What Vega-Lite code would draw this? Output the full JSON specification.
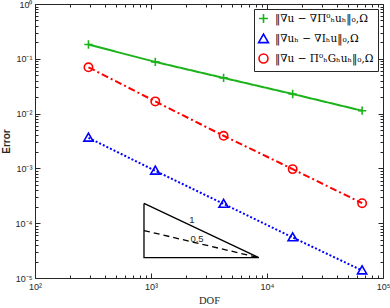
{
  "$schema": "https://vega.github.io/schema/vega-lite/v6.json",
  "width": 348,
  "height": 274,
  "autosize": "none",
  "padding": {"left": 35, "top": 4, "right": 7, "bottom": 30},
  "background": "white",
  "config": {
    "view": {"stroke": "#262626", "strokeWidth": 1},
    "axis": {"labelFont": "Liberation Sans", "labelFontSize": 9, "labelColor": "#262626", "tickColor": "#262626", "grid": false, "domain": false, "labelFlush": false, "labelOverlap": false}
  },
  "datasets": {
    "err": [
      {"DOF": 289, "err": 0.182, "series": "‖∇u − ∇Π⁰ₕuₕ‖₀,Ω"},
      {"DOF": 1089, "err": 0.0877, "series": "‖∇u − ∇Π⁰ₕuₕ‖₀,Ω"},
      {"DOF": 4225, "err": 0.0448, "series": "‖∇u − ∇Π⁰ₕuₕ‖₀,Ω"},
      {"DOF": 16641, "err": 0.0228, "series": "‖∇u − ∇Π⁰ₕuₕ‖₀,Ω"},
      {"DOF": 66049, "err": 0.0113, "series": "‖∇u − ∇Π⁰ₕuₕ‖₀,Ω"},
      {"DOF": 289, "err": 0.00362, "series": "‖∇uₕ − ∇Iₕu‖₀,Ω"},
      {"DOF": 1089, "err": 0.000904, "series": "‖∇uₕ − ∇Iₕu‖₀,Ω"},
      {"DOF": 4225, "err": 0.000225, "series": "‖∇uₕ − ∇Iₕu‖₀,Ω"},
      {"DOF": 16641, "err": 0.000055, "series": "‖∇uₕ − ∇Iₕu‖₀,Ω"},
      {"DOF": 66049, "err": 0.0000137, "series": "‖∇uₕ − ∇Iₕu‖₀,Ω"},
      {"DOF": 289, "err": 0.070, "series": "‖∇u − Π⁰ₕGₕuₕ‖₀,Ω"},
      {"DOF": 1089, "err": 0.0167, "series": "‖∇u − Π⁰ₕGₕuₕ‖₀,Ω"},
      {"DOF": 4225, "err": 0.00394, "series": "‖∇u − Π⁰ₕGₕuₕ‖₀,Ω"},
      {"DOF": 16641, "err": 0.00097, "series": "‖∇u − Π⁰ₕGₕuₕ‖₀,Ω"},
      {"DOF": 66049, "err": 0.000232, "series": "‖∇u − Π⁰ₕGₕuₕ‖₀,Ω"}
    ],
    "tri": [
      {"x": 870, "y": 0.000230, "ord": 0},
      {"x": 870, "y": 0.0000235, "ord": 1},
      {"x": 8500, "y": 0.0000235, "ord": 2},
      {"x": 870, "y": 0.000230, "ord": 3}
    ],
    "half": [
      {"x": 870, "y": 0.0000735, "ord": 0},
      {"x": 8500, "y": 0.0000235, "ord": 1}
    ],
    "lab": [
      {"x": 2255, "y": 0.000115, "text": "1"},
      {"x": 2494, "y": 0.0000516, "text": "0.5"}
    ]
  },
  "resolve": {"axis": {"x": "independent", "y": "independent"}, "scale": {"strokeDash": "independent"}},
  "layer": [
    {
      "data": {"name": "tri"},
      "mark": {"type": "line", "color": "black", "strokeWidth": 1.3, "strokeJoin": "miter"},
      "encoding": {
        "x": {"field": "x", "type": "quantitative", "scale": {"type": "log", "domain": [100, 100000], "nice": false},
          "axis": {"orient": "top", "labels": false, "title": null,
            "values": [100,200,300,400,500,600,700,800,900,1000,2000,3000,4000,5000,6000,7000,8000,9000,10000,20000,30000,40000,50000,60000,70000,80000,90000,100000],
            "tickSize": {"condition": {"test": "abs(log(datum.value)/LN10 - round(log(datum.value)/LN10)) < 0.001", "value": -5}, "value": -3}}},
        "y": {"field": "y", "type": "quantitative", "scale": {"type": "log", "domain": [0.00001, 1], "nice": false},
          "axis": {"orient": "right", "labels": false, "title": null,
            "values": [0.00001,0.00002,0.00003,0.00004,0.00005,0.00006,0.00007,0.00008,0.00009,0.0001,0.0002,0.0003,0.0004,0.0005,0.0006,0.0007,0.0008,0.0009,0.001,0.002,0.003,0.004,0.005,0.006,0.007,0.008,0.009,0.01,0.02,0.03,0.04,0.05,0.06,0.07,0.08,0.09,0.1,0.2,0.3,0.4,0.5,0.6,0.7,0.8,0.9,1],
            "tickSize": {"condition": {"test": "abs(log(datum.value)/LN10 - round(log(datum.value)/LN10)) < 0.001", "value": -5}, "value": -3}}},
        "order": {"field": "ord"}
      }
    },
    {
      "data": {"name": "half"},
      "mark": {"type": "line", "color": "black", "strokeWidth": 1.3, "strokeDash": [6, 4]},
      "encoding": {
        "x": {"field": "x", "type": "quantitative", "axis": null},
        "y": {"field": "y", "type": "quantitative", "axis": null},
        "order": {"field": "ord"}
      }
    },
    {
      "data": {"name": "err"},
      "mark": {"type": "line", "strokeWidth": 2},
      "encoding": {
        "x": {"field": "DOF", "type": "quantitative",
          "axis": {"orient": "bottom", "title": "DOF", "titleFont": "Liberation Serif", "titleFontSize": 10.5, "titleFontWeight": "normal", "titleColor": "#262626", "titlePadding": 2,
            "labelPadding": 9,
            "values": [100,200,300,400,500,600,700,800,900,1000,2000,3000,4000,5000,6000,7000,8000,9000,10000,20000,30000,40000,50000,60000,70000,80000,90000,100000],
            "labelExpr": "abs(log(datum.value)/LN10 - round(log(datum.value)/LN10)) < 0.001 ? ['10²','10³','10⁴','10⁵'][round(log(datum.value)/LN10)-2] : ''",
            "tickSize": {"condition": {"test": "abs(log(datum.value)/LN10 - round(log(datum.value)/LN10)) < 0.001", "value": -5}, "value": -3}}},
        "y": {"field": "err", "type": "quantitative",
          "axis": {"orient": "left", "title": "Error", "titleFont": "Liberation Sans", "titleFontSize": 10, "titleFontWeight": "bold", "titleColor": "#262626", "titlePadding": 4,
            "labelPadding": 8,
            "values": [0.00001,0.00002,0.00003,0.00004,0.00005,0.00006,0.00007,0.00008,0.00009,0.0001,0.0002,0.0003,0.0004,0.0005,0.0006,0.0007,0.0008,0.0009,0.001,0.002,0.003,0.004,0.005,0.006,0.007,0.008,0.009,0.01,0.02,0.03,0.04,0.05,0.06,0.07,0.08,0.09,0.1,0.2,0.3,0.4,0.5,0.6,0.7,0.8,0.9,1],
            "labelExpr": "abs(log(datum.value)/LN10 - round(log(datum.value)/LN10)) < 0.001 ? ['10⁻⁵','10⁻⁴','10⁻³','10⁻²','10⁻¹','10⁰'][round(log(datum.value)/LN10)+5] : ''",
            "tickSize": {"condition": {"test": "abs(log(datum.value)/LN10 - round(log(datum.value)/LN10)) < 0.001", "value": -5}, "value": -3}}},
        "color": {"field": "series", "type": "nominal", "scale": {"domain": ["‖∇u − ∇Π⁰ₕuₕ‖₀,Ω", "‖∇uₕ − ∇Iₕu‖₀,Ω", "‖∇u − Π⁰ₕGₕuₕ‖₀,Ω"], "range": ["#1AB31A", "#0000FF", "#FF0000"]}},
        "strokeDash": {"field": "series", "type": "nominal", "scale": {"domain": ["‖∇u − ∇Π⁰ₕuₕ‖₀,Ω", "‖∇uₕ − ∇Iₕu‖₀,Ω", "‖∇u − Π⁰ₕGₕuₕ‖₀,Ω"], "range": [[1, 0], [2, 2], [7, 3, 2, 3]]}, "legend": null}
      }
    },
    {
      "data": {"name": "err"},
      "mark": {"type": "point", "filled": false, "strokeWidth": 1.6, "size": 70, "opacity": 1},
      "encoding": {
        "x": {"field": "DOF", "type": "quantitative", "axis": null},
        "y": {"field": "err", "type": "quantitative", "axis": null},
        "color": {"field": "series", "type": "nominal",
          "legend": {"title": null, "orient": "top-right", "offset": 5, "fillColor": "white", "strokeColor": "#262626", "padding": 4, "rowPadding": 3.5,
            "labelFont": "DejaVu Serif", "labelFontSize": 10.5, "labelColor": "black", "labelLimit": 200,
            "symbolSize": 80, "symbolStrokeWidth": 1.6, "labelOffset": 6, "symbolFillColor": "transparent"}},
        "shape": {"field": "series", "type": "nominal", "scale": {"domain": ["‖∇u − ∇Π⁰ₕuₕ‖₀,Ω", "‖∇uₕ − ∇Iₕu‖₀,Ω", "‖∇u − Π⁰ₕGₕuₕ‖₀,Ω"], "range": ["M-1,0H1M0,-1V1", "M0,-1.1L1.1,0.8L-1.1,0.8Z", "circle"]},
          "legend": {"title": null}}
      }
    },
    {
      "data": {"name": "lab"},
      "mark": {"type": "text", "font": "Liberation Sans", "fontSize": 9.5, "color": "#262626"},
      "encoding": {
        "x": {"field": "x", "type": "quantitative", "axis": null},
        "y": {"field": "y", "type": "quantitative", "axis": null},
        "text": {"field": "text"}
      }
    }
  ]
}
